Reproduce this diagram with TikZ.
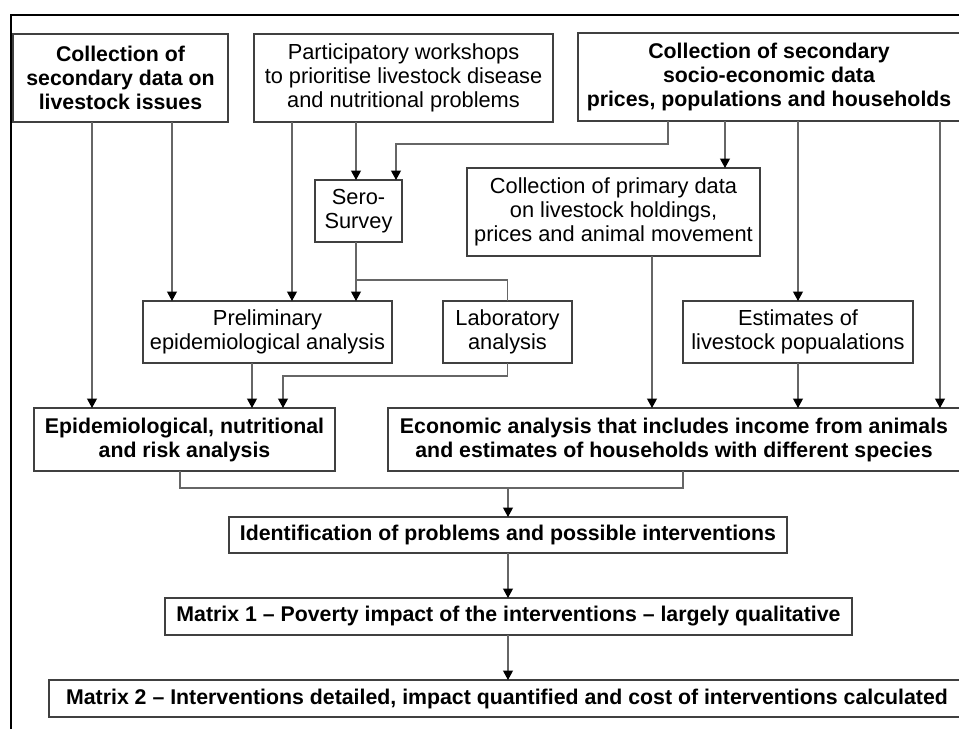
\documentclass[tikz,border=0pt]{standalone}
\usepackage{fontspec}
\setmainfont{Liberation Sans}
\usetikzlibrary{arrows.meta}

\begin{document}
\begin{tikzpicture}[x=1pt,y=-1pt,
  font=\fontsize{21.8}{24}\selectfont,
  box/.style={draw=black!75, line width=1.1pt, inner sep=0pt, outer sep=0pt, align=center, fill=white},
  boldbox/.style={box, font=\fontsize{21.3}{24}\selectfont\bfseries},
  link/.style={draw=black!60, line width=1.1pt},
  arr/.style={link, -{Triangle[color=black, width=10pt, length=9.5pt]}}
]
\path[use as bounding box, clip] (0,0) rectangle (959,729);

% outer frame (left and top edges)
\draw[line width=2pt] (11,729) -- (11,15) -- (959,15);

% first row: data sources
\node[boldbox, minimum width=215pt, minimum height=88pt] (seclive) at (120.5,78)
  {Collection of\\secondary data on\\livestock issues};
\node[box, minimum width=299pt, minimum height=88pt] (workshop) at (403.5,78)
  {Participatory workshops\\to prioritise livestock disease\\and nutritional problems};
\node[boldbox, minimum width=382pt, minimum height=88pt] (secsoc) at (769,77)
  {Collection of secondary\\socio-economic data\\prices, populations and households};

% intermediate steps
\node[box, minimum width=87pt, minimum height=62pt] (sero) at (358.5,211) {Sero-\\Survey};
\node[box, minimum width=293pt, minimum height=88pt] (primary) at (613.5,212)
  {Collection of primary data\\on livestock holdings,\\prices and animal movement};
\node[box, minimum width=249pt, minimum height=62pt] (prelim) at (267.5,332)
  {Preliminary\\epidemiological analysis};
\node[box, minimum width=129pt, minimum height=62pt] (lab) at (507.5,332) {Laboratory\\analysis};
\node[box, minimum width=230pt, minimum height=62pt] (estim) at (798,332)
  {Estimates of\\livestock popualations};

% analyses
\node[boldbox, minimum width=301pt, minimum height=63pt] (epi) at (184.5,439.5)
  {Epidemiological, nutritional\\and risk analysis};
\node[boldbox, minimum width=572pt, minimum height=63pt] (econ) at (674,439.5)
  {Economic analysis that includes income from animals\\and estimates of households with different species};

% outcomes
\node[boldbox, minimum width=558pt, minimum height=36pt] (ident) at (508,535)
  {Identification of problems and possible interventions};
\node[boldbox, minimum width=687pt, minimum height=37pt] (mat1) at (508.5,616.5)
  {Matrix 1 – Poverty impact of the interventions – largely qualitative};
\node[boldbox, minimum width=916pt, minimum height=37pt] (mat2) at (507,698.5)
  {Matrix 2 – Interventions detailed, impact quantified and cost of interventions calculated};

% connectors
\draw[arr] (92,0 |- seclive.south) -- (92,0 |- epi.north);
\draw[arr] (172,0 |- seclive.south) -- (172,0 |- prelim.north);
\draw[arr] (292,0 |- workshop.south) -- (292,0 |- prelim.north);
\draw[arr] (356,0 |- workshop.south) -- (356,0 |- sero.north);
\draw[arr] (668,0 |- secsoc.south) |- (396,144) -- (396,0 |- sero.north);
\draw[arr] (725,0 |- secsoc.south) -- (725,0 |- primary.north);
\draw[arr] (798,0 |- secsoc.south) -- (estim.north);
\draw[arr] (940,0 |- secsoc.south) -- (940,0 |- econ.north);
\draw[arr] (356,0 |- sero.south) -- (356,0 |- prelim.north);
\draw[link] (356,280) -| (lab.north);
\draw[arr] (lab.south) |- (283,376) -- (283,0 |- epi.north);
\draw[arr] (252,0 |- prelim.south) -- (252,0 |- epi.north);
\draw[arr] (652,0 |- primary.south) -- (652,0 |- econ.north);
\draw[arr] (estim.south) -- (798,0 |- econ.north);
\draw[link] (180,0 |- epi.south) |- (683,488) -- (683,0 |- econ.south);
\draw[arr] (508,488) -- (508,0 |- ident.north);
\draw[arr] (508,0 |- ident.south) -- (508,0 |- mat1.north);
\draw[arr] (508,0 |- mat1.south) -- (508,0 |- mat2.north);
\end{tikzpicture}
\end{document}
